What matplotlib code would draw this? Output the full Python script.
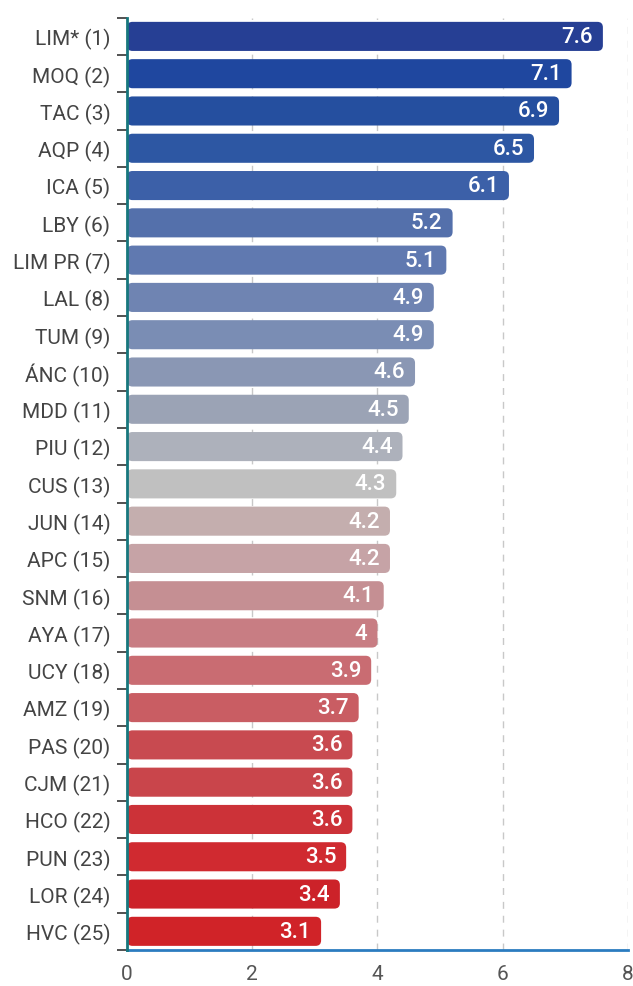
import matplotlib
matplotlib.use("Agg")
import matplotlib.pyplot as plt
from matplotlib.patches import FancyBboxPatch

names = ["LIM* (1)", "MOQ (2)", "TAC (3)", "AQP (4)", "ICA (5)", "LBY (6)", "LIM PR (7)",
         "LAL (8)", "TUM (9)", "ÁNC (10)", "MDD (11)", "PIU (12)", "CUS (13)", "JUN (14)",
         "APC (15)", "SNM (16)", "AYA (17)", "UCY (18)", "AMZ (19)", "PAS (20)", "CJM (21)",
         "HCO (22)", "PUN (23)", "LOR (24)", "HVC (25)"]
values = [7.6, 7.1, 6.9, 6.5, 6.1, 5.2, 5.1, 4.9, 4.9, 4.6, 4.5, 4.4, 4.3, 4.2, 4.2, 4.1,
          4.0, 3.9, 3.7, 3.6, 3.6, 3.6, 3.5, 3.4, 3.1]
value_labels = ["7.6", "7.1", "6.9", "6.5", "6.1", "5.2", "5.1", "4.9", "4.9", "4.6", "4.5",
                "4.4", "4.3", "4.2", "4.2", "4.1", "4", "3.9", "3.7", "3.6", "3.6", "3.6",
                "3.5", "3.4", "3.1"]
colors = ["#263f94", "#1f479f", "#254f9f", "#2d57a3", "#3c60a8", "#5470ab", "#6079b0",
          "#6f84b2", "#7a8db4", "#8a97b4", "#9ba3b5", "#adb1bb", "#c0c0c0", "#c4aeae",
          "#c6a3a6", "#c58f93", "#c87d83", "#c96c72", "#c95d63", "#c84a50", "#c9454b",
          "#cc3238", "#d02a30", "#cc2229", "#d02328"]
xticks = [0, 2, 4, 6, 8]

fam = ["Roboto"]

fig = plt.figure(figsize=(6.33, 9.87), dpi=100)
ax = fig.add_axes([0.2006, 0.0365, 0.7914, 0.9445])

ax.set_xlim(0, 8)
ax.set_ylim(len(names) - 0.5, -0.5)

bh = 0.78
fig_w, fig_h = 633, 987
pos = ax.get_position()
px_x = pos.width * fig_w / 8
px_y = pos.height * fig_h / len(names)
aspect = px_x / px_y
rad = 5.5 / px_x

for i, (v, c, lab) in enumerate(zip(values, colors, value_labels)):
    p = FancyBboxPatch((0, i - bh / 2), v, bh,
                       boxstyle=f"round,pad=0,rounding_size={rad}",
                       mutation_aspect=aspect, facecolor=c, edgecolor="none", zorder=3)
    ax.add_patch(p)
    ax.text(v - 0.16, i, lab, ha="right", va="center", color="white",
            fontsize=16, fontweight="medium", family=fam, zorder=4)

ax.set_xticks(xticks)
ax.set_xticklabels([str(t) for t in xticks], family=fam, fontsize=15, color="#555555")
ax.tick_params(axis="x", length=0, pad=10)

ax.set_yticks(range(len(names)))
ax.set_yticklabels(names, family=fam, fontsize=15, color="#444444")
ax.tick_params(axis="y", which="major", length=0, pad=12)
ax.set_yticks([i - 0.5 for i in range(len(names) + 1)], minor=True)
ax.tick_params(axis="y", which="minor", length=7, width=1.2, color="#333333")

ax.grid(axis="x", color="#c8c8c8", linestyle=(0, (5, 5)), linewidth=1, zorder=0)
ax.set_axisbelow(True)

for s in ["top", "right"]:
    ax.spines[s].set_visible(False)
ax.spines["left"].set_color("#17777d")
ax.spines["left"].set_linewidth(2)
ax.spines["bottom"].set_color("#2b7cc0")
ax.spines["bottom"].set_linewidth(2)
ax.spines["left"].set_zorder(5)

fig.savefig("out.png", dpi=100, facecolor="white")
